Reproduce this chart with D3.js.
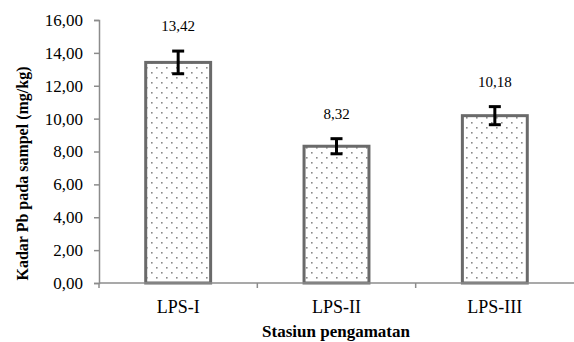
<!DOCTYPE html>
<html>
<head>
<meta charset="utf-8">
<script src="https://cdn.jsdelivr.net/npm/d3@7"></script>
<style>
  body { margin: 0; background: #fff; }
  svg { font-family: "Liberation Serif", "Times New Roman", serif; }
</style>
</head>
<body>
<script>
const categories = ['LPS-I', 'LPS-II', 'LPS-III'];
const values = [13.42, 8.32, 10.18];
const errors = [0.69, 0.46, 0.55];
const yTicks = [0, 2, 4, 6, 8, 10, 12, 14, 16];

const width = 574;
const height = 342;
const margin = { left: 99, top: 20, right: 0, bottom: 59 };
const plotW = width - margin.left - margin.right;
const plotH = height - margin.top - margin.bottom;

const svg = d3.select('body').append('svg')
  .attr('width', width)
  .attr('height', height);

const defs = svg.append('defs');
const pat = defs.append('pattern')
  .attr('id', 'dots')
  .attr('patternUnits', 'userSpaceOnUse')
  .attr('width', 10)
  .attr('height', 10);
pat.append('rect').attr('width', 10).attr('height', 10).attr('fill', '#fff');
[[2, 2], [7, 7]].forEach(([cx, cy]) => {
  pat.append('rect').attr('x', cx).attr('y', cy)
    .attr('width', 1.6).attr('height', 1.6).attr('fill', '#8a8a8a');
});

const g = svg.append('g')
  .attr('transform', `translate(${margin.left}, ${margin.top})`);

const x = d3.scaleBand()
  .domain(categories)
  .range([0, plotW])
  .paddingInner(0.59)
  .paddingOuter(0.295);

const xTick = d3.scaleBand().domain(categories).range([0, plotW]);

const y = d3.scaleLinear()
  .domain([0, 16])
  .range([plotH, 0]);

// y axis
const yAxis = d3.axisLeft(y)
  .tickValues(yTicks)
  .tickSize(5)
  .tickFormat(d => d3.format('.2f')(d).replace('.', ','));

const yg = g.append('g').call(yAxis);
yg.attr('font-family', null);
yg.select('.domain').attr('stroke', '#8c8c8c').attr('stroke-width', 1.5);
yg.selectAll('.tick line').attr('stroke', '#8c8c8c').attr('stroke-width', 1.5);
yg.selectAll('.tick text')
  .attr('font-size', 17)
  .attr('fill', '#000')
  .attr('x', -16);

// bars
g.selectAll('rect.bar')
  .data(values)
  .enter()
  .append('rect')
  .attr('class', 'bar')
  .attr('x', (d, i) => x(categories[i]))
  .attr('y', d => y(d))
  .attr('width', x.bandwidth())
  .attr('height', d => plotH - y(d))
  .attr('fill', 'url(#dots)')
  .attr('stroke', '#6a6a6a')
  .attr('stroke-width', 3);

// x axis (ticks at category boundaries)
g.append('line')
  .attr('x1', 0).attr('x2', plotW)
  .attr('y1', plotH).attr('y2', plotH)
  .attr('stroke', '#8c8c8c').attr('stroke-width', 1.5);

g.selectAll('line.xtick')
  .data(categories)
  .enter()
  .append('line')
  .attr('class', 'xtick')
  .attr('x1', d => xTick(d)).attr('x2', d => xTick(d))
  .attr('y1', plotH).attr('y2', plotH + 5)
  .attr('stroke', '#8c8c8c').attr('stroke-width', 1.5);

g.selectAll('text.cat')
  .data(categories)
  .enter()
  .append('text')
  .attr('class', 'cat')
  .attr('x', d => x(d) + x.bandwidth() / 2)
  .attr('y', plotH + 30)
  .attr('text-anchor', 'middle')
  .attr('font-size', 18)
  .text(d => d);

// error bars
const eb = g.selectAll('g.err')
  .data(values)
  .enter()
  .append('g')
  .attr('class', 'err')
  .attr('transform', (d, i) => `translate(${x(categories[i]) + x.bandwidth() / 2}, 0)`);

eb.append('line')
  .attr('y1', (d, i) => y(d + errors[i]))
  .attr('y2', (d, i) => y(d - errors[i]))
  .attr('stroke', '#000').attr('stroke-width', 3);
eb.append('line')
  .attr('x1', -6).attr('x2', 6)
  .attr('y1', (d, i) => y(d + errors[i]))
  .attr('y2', (d, i) => y(d + errors[i]))
  .attr('stroke', '#000').attr('stroke-width', 3);
eb.append('line')
  .attr('x1', -6).attr('x2', 6)
  .attr('y1', (d, i) => y(d - errors[i]))
  .attr('y2', (d, i) => y(d - errors[i]))
  .attr('stroke', '#000').attr('stroke-width', 3);

// value labels
g.selectAll('text.val')
  .data(values)
  .enter()
  .append('text')
  .attr('class', 'val')
  .attr('x', (d, i) => x(categories[i]) + x.bandwidth() / 2)
  .attr('y', (d, i) => y(d + errors[i]) - 20)
  .attr('text-anchor', 'middle')
  .attr('font-size', 15)
  .text(d => d3.format('.2f')(d).replace('.', ','));

// axis titles
svg.append('text')
  .attr('transform', `translate(28, ${margin.top + plotH / 2 + 22}) rotate(-90)`)
  .attr('text-anchor', 'middle')
  .attr('font-weight', 'bold')
  .attr('font-size', 16)
  .text('Kadar Pb pada sampel (mg/kg)');

svg.append('text')
  .attr('x', 336)
  .attr('y', 337)
  .attr('text-anchor', 'middle')
  .attr('font-weight', 'bold')
  .attr('font-size', 17)
  .text('Stasiun pengamatan');
</script>
</body>
</html>
